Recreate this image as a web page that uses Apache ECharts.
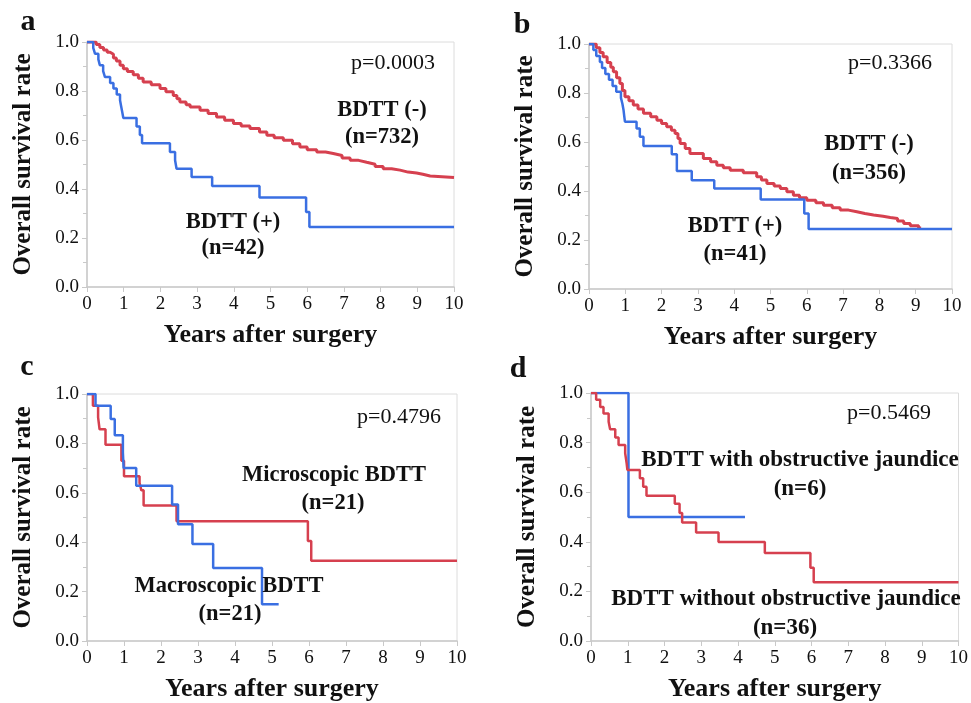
<!DOCTYPE html>
<html>
<head>
<meta charset="utf-8">
<script src="https://cdn.jsdelivr.net/npm/echarts@6/dist/echarts.min.js"></script>
<style>
html,body{margin:0;padding:0;background:#fff;}
#chart{width:971px;height:703px;}
</style>
</head>
<body>
<div id="chart"></div>
<script>
// ---------- Data (time in years, overall survival rate) ----------
const xTicks = [0,1,2,3,4,5,6,7,8,9,10];
const yTicks = [0.0,0.2,0.4,0.6,0.8,1.0];

// Panel a
const aNegLabel = ["BDTT (-)", "(n=732)"];
const aPosLabel = ["BDTT (+)", "(n=42)"];
const aPValue = "p=0.0003";
const aNeg = [[0,1],[0.16,1.0],[0.25,0.99],[0.35,0.978],[0.45,0.967],[0.55,0.958],[0.63,0.95],[0.72,0.935],[0.8,0.922],[0.9,0.905],[0.99,0.891],[1.1,0.88],[1.26,0.866],[1.4,0.852],[1.53,0.837],[1.75,0.826],[1.99,0.81],[2.15,0.797],[2.35,0.782],[2.45,0.768],[2.53,0.755],[2.7,0.744],[2.81,0.735],[3.08,0.721],[3.3,0.708],[3.53,0.694],[3.75,0.681],[3.99,0.667],[4.2,0.657],[4.44,0.647],[4.7,0.633],[4.9,0.619],[5.1,0.609],[5.35,0.599],[5.6,0.585],[5.8,0.571],[6.0,0.56],[6.26,0.551],[6.5,0.545],[6.71,0.537],[6.95,0.527],[7.17,0.517],[7.4,0.509],[7.62,0.501],[7.85,0.492],[8.07,0.483],[8.3,0.477],[8.53,0.469],[8.75,0.465],[8.98,0.46],[9.15,0.453],[9.35,0.447],[10,0.447]];
const aPos = [[0,1],[0.17,0.976],[0.22,0.952],[0.31,0.929],[0.35,0.905],[0.44,0.881],[0.49,0.857],[0.63,0.833],[0.72,0.81],[0.81,0.786],[0.9,0.762],[0.93,0.738],[0.96,0.714],[0.99,0.69],[1.35,0.655],[1.44,0.62],[1.5,0.587],[2.26,0.551],[2.4,0.517],[2.44,0.483],[2.85,0.449],[3.41,0.412],[4.7,0.365],[5.97,0.306],[6.06,0.245],[10,0.245]];

// Panel b
const bNegLabel = ["BDTT (-)", "(n=356)"];
const bPosLabel = ["BDTT (+)", "(n=41)"];
const bPValue = "p=0.3366";
const bNeg = [[0,1],[0.12,1.0],[0.2,0.985],[0.3,0.965],[0.39,0.948],[0.5,0.925],[0.6,0.905],[0.67,0.887],[0.76,0.862],[0.85,0.839],[0.92,0.81],[0.99,0.785],[1.1,0.768],[1.22,0.751],[1.35,0.735],[1.5,0.717],[1.7,0.703],[1.87,0.689],[2.0,0.676],[2.14,0.662],[2.27,0.648],[2.37,0.635],[2.45,0.614],[2.51,0.594],[2.65,0.573],[2.78,0.553],[3.15,0.533],[3.35,0.519],[3.52,0.505],[3.7,0.495],[3.89,0.485],[4.25,0.474],[4.62,0.458],[4.75,0.445],[4.9,0.431],[5.1,0.42],[5.27,0.41],[5.45,0.397],[5.63,0.383],[5.8,0.372],[6.0,0.362],[6.25,0.352],[6.46,0.342],[6.7,0.332],[6.92,0.322],[7.15,0.315],[7.38,0.308],[7.6,0.302],[7.84,0.297],[8.1,0.292],[8.3,0.288],[8.5,0.278],[8.67,0.267],[8.85,0.258],[9.08,0.249],[9.15,0.249]];
const bPos = [[0,1],[0.12,0.976],[0.2,0.951],[0.3,0.927],[0.36,0.902],[0.45,0.878],[0.55,0.854],[0.65,0.829],[0.75,0.805],[0.88,0.78],[0.92,0.756],[0.95,0.732],[0.97,0.707],[0.99,0.683],[1.31,0.655],[1.4,0.621],[1.5,0.584],[2.28,0.55],[2.42,0.482],[2.83,0.444],[3.45,0.41],[4.73,0.365],[5.93,0.308],[6.05,0.245],[10,0.245]];

// Panel c
const cRedLabel = ["Microscopic BDTT", "(n=21)"];
const cBlueLabel = ["Macroscopic BDTT", "(n=21)"];
const cPValue = "p=0.4796";
const cRed = [[0,1],[0.16,0.952],[0.3,0.905],[0.34,0.857],[0.5,0.795],[0.93,0.73],[1.0,0.667],[1.42,0.64],[1.47,0.61],[1.53,0.549],[2.42,0.485],[5.97,0.405],[6.06,0.325],[10,0.325]];
const cBlue = [[0,1],[0.23,0.952],[0.64,0.899],[0.75,0.833],[0.97,0.763],[0.99,0.7],[1.33,0.629],[2.3,0.553],[2.46,0.473],[2.85,0.393],[3.41,0.296],[4.73,0.149],[5.18,0.149]];

// Panel d
const dRedLabel = ["BDTT without obstructive jaundice", "(n=36)"];
const dBlueLabel = ["BDTT with obstructive jaundice", "(n=6)"];
const dPValue = "p=0.5469";
const dRed = [[0,1],[0.14,0.973],[0.25,0.944],[0.34,0.917],[0.48,0.884],[0.52,0.854],[0.66,0.821],[0.75,0.79],[0.93,0.757],[0.97,0.716],[0.99,0.69],[1.33,0.656],[1.42,0.622],[1.51,0.586],[2.28,0.553],[2.41,0.516],[2.48,0.478],[2.86,0.438],[3.47,0.399],[4.73,0.355],[5.97,0.295],[6.06,0.237],[10,0.237]];
const dBlue = [[0,1],[1.02,0.5],[4.19,0.5]];

// ---------- Styling / layout ----------
const RED = '#d6404f';
const BLUE = '#3a6fe2';
const SERIF = '"Liberation Serif","Times New Roman",serif';
const AXIS_GRAY = '#c9c9c9';

const grids = [
  {left:87, top:42, width:367, height:245},
  {left:589, top:44, width:363, height:245},
  {left:87, top:394, width:370, height:250},
  {left:591, top:393, width:370, height:249}
];

function xAxisFor(i){
  return {
    gridIndex:i, type:'value', min:0, max:10, interval:1,
    name:'Years after surgery', nameLocation:'middle', nameGap:35,
    nameTextStyle:{fontFamily:SERIF, fontWeight:'bold', fontSize:26, color:'#111'},
    axisLine:{show:true, lineStyle:{color:AXIS_GRAY, width:1.5}},
    axisTick:{show:true, length:5, lineStyle:{color:AXIS_GRAY}},
    axisLabel:{fontFamily:SERIF, fontSize:19, color:'#111', margin:8},
    splitLine:{show:false}
  };
}
function yAxisFor(i){
  return {
    gridIndex:i, type:'value', min:0, max:1, interval:0.2,
    name:'Overall survival rate', nameLocation:'middle', nameGap:51,
    nameTextStyle:{fontFamily:SERIF, fontWeight:'bold', fontSize:25, color:'#111'},
    axisLine:{show:true, lineStyle:{color:AXIS_GRAY, width:1.5}},
    axisTick:{show:true, length:5, lineStyle:{color:AXIS_GRAY}},
    minorTick:{show:true, splitNumber:2, length:4, lineStyle:{color:AXIS_GRAY}},
    axisLabel:{fontFamily:SERIF, fontSize:19, color:'#111', margin:8, formatter:v=>v.toFixed(1)},
    splitLine:{show:false}
  };
}
function km(i, data, color, width, z){
  return {type:'line', xAxisIndex:i, yAxisIndex:i, data:data, step:'end',
    showSymbol:false, symbol:'none', lineStyle:{color:color, width:width}, z:z, animation:false};
}

function txt(x, y, s, bold, size){
  return {type:'text', x:x, y:y, style:{text:s, fontFamily:SERIF, fontWeight:bold?'bold':'normal',
    fontSize:size, fill:'#111', textAlign:'center', textVerticalAlign:'middle'}, z:100};
}

const graphics = [
  txt(28,22,'a',true,30), txt(522,25,'b',true,30), txt(27,367,'c',true,30), txt(518,369,'d',true,30),
  txt(393,63,aPValue,false,22), txt(382,110,aNegLabel[0],true,22.5), txt(382,137,aNegLabel[1],true,22.5),
  txt(233,222,aPosLabel[0],true,22.5), txt(233,248,aPosLabel[1],true,22.5),
  txt(890,63,bPValue,false,22), txt(869,144,bNegLabel[0],true,22.5), txt(869,173,bNegLabel[1],true,22.5),
  txt(735,226,bPosLabel[0],true,22.5), txt(735,254,bPosLabel[1],true,22.5),
  txt(399,417,cPValue,false,22), txt(334,475,cRedLabel[0],true,22.5), txt(333,503,cRedLabel[1],true,22.5),
  txt(229,586,cBlueLabel[0],true,22.5), txt(230,614,cBlueLabel[1],true,22.5),
  txt(889,413,dPValue,false,22), txt(800,460,dBlueLabel[0],true,23), txt(800,489,dBlueLabel[1],true,23),
  txt(786,599,dRedLabel[0],true,23), txt(785,628,dRedLabel[1],true,23)
];

const option = {
  backgroundColor:'#fff',
  animation:false,
  grid: grids.map(g => Object.assign({show:true, borderColor:'#dcdcdc', borderWidth:1, backgroundColor:'transparent'}, g)),
  xAxis: [0,1,2,3].map(xAxisFor),
  yAxis: [0,1,2,3].map(yAxisFor),
  series: [
    km(0, aNeg, RED, 3, 2), km(0, aPos, BLUE, 2.5, 3),
    km(1, bNeg, RED, 3, 2), km(1, bPos, BLUE, 2.5, 3),
    km(2, cRed, RED, 2.5, 2), km(2, cBlue, BLUE, 2.5, 3),
    km(3, dBlue, BLUE, 2.5, 2), km(3, dRed, RED, 2.5, 3)
  ],
  graphic: graphics
};

const chart = echarts.init(document.getElementById('chart'), null, {renderer:'canvas'});
chart.setOption(option);
</script>
</body>
</html>
